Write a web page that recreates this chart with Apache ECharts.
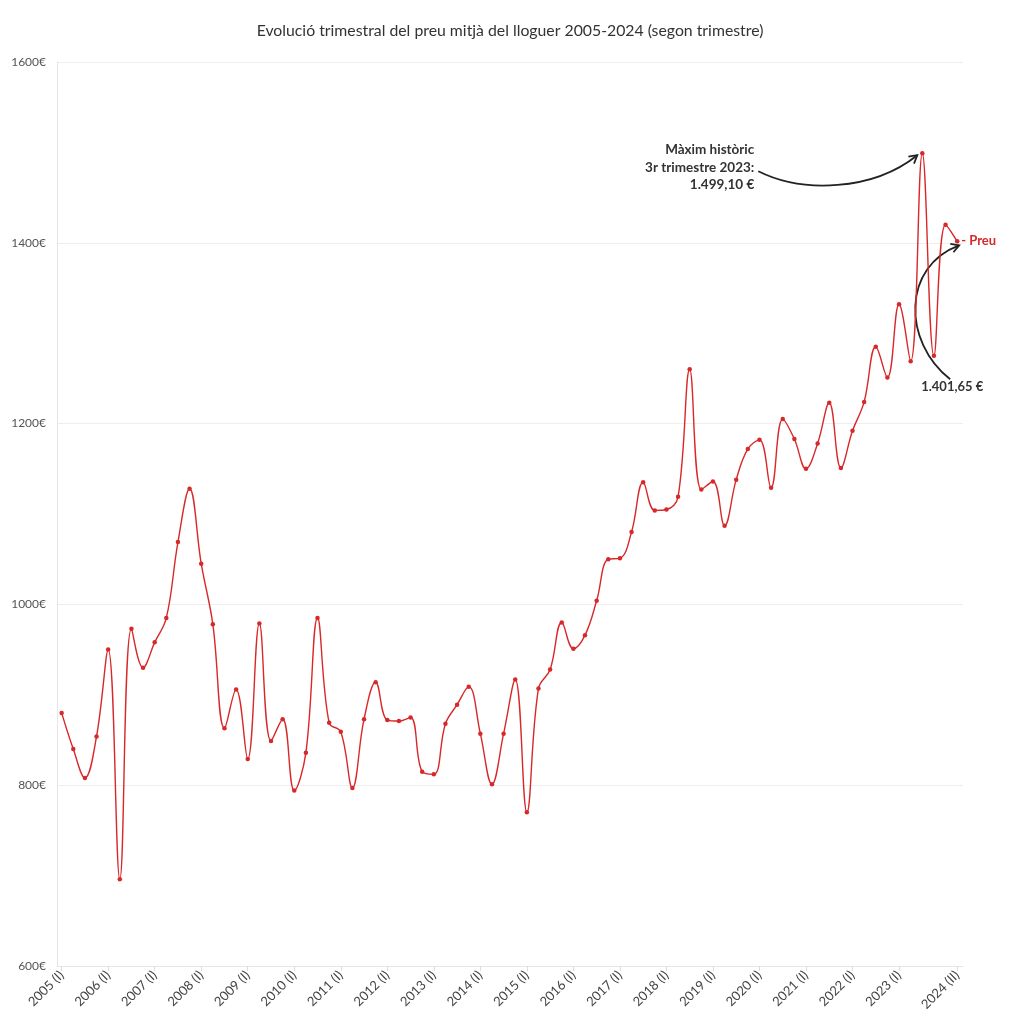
<!DOCTYPE html>
<html>
<head>
<meta charset="utf-8">
<script src="https://cdn.jsdelivr.net/npm/echarts@6/dist/echarts.min.js"></script>
<style>
html,body{margin:0;padding:0;background:#fff;}
#chart{width:1020px;height:1033px;}
</style>
</head>
<body>
<div id="chart"></div>
<script>
// Quarterly categories 2005 (I) .. 2024 (II)
const years = [2005,2006,2007,2008,2009,2010,2011,2012,2013,2014,2015,2016,2017,2018,2019,2020,2021,2022,2023,2024];
const romans = ["I","II","III","IV"];
const categories = [];
years.forEach(y => romans.forEach(r => { if (!(y === 2024 && (r === "III" || r === "IV"))) categories.push(y + " (" + r + ")"); }));

// Average rent (€) per quarter
const preu = [
  880, 840, 808, 854,
  950, 696, 973, 930,
  958, 985, 1069, 1128,
  1045, 978, 863, 906,
  829, 979, 849, 873,
  794, 836, 985, 869,
  859, 797, 873, 914,
  872, 871, 875, 815,
  812, 868, 889, 909,
  857, 801, 857, 917,
  770, 907, 928, 980,
  951, 966, 1004, 1050,
  1051, 1080, 1135, 1104,
  1105, 1119, 1260, 1127,
  1136, 1087, 1138, 1172,
  1182, 1129, 1205, 1183,
  1150, 1178, 1223, 1151,
  1192, 1224, 1285, 1251,
  1332, 1269, 1499.10, 1275,
  1420, 1401.65
];

// Tick labels shown on the x axis
const tickLabels = ["2005 (I)","2006 (I)","2007 (I)","2008 (I)","2009 (I)","2010 (I)","2011 (I)","2012 (I)","2013 (I)","2014 (I)","2015 (I)","2016 (I)","2017 (I)","2018 (I)","2019 (I)","2020 (I)","2021 (I)","2022 (I)","2023 (I)","2024 (II)"];
const yTicks = [600, 800, 1000, 1200, 1400, 1600];

const tickIdx = tickLabels.map(l => categories.indexOf(l));
const seriesData = preu.map((v, i) => [i, v]);
const RED = '#d7282a';
const FONT = 'Lato';

const chart = echarts.init(document.getElementById('chart'));
chart.setOption({
  animation: false,
  backgroundColor: '#fff',
  textStyle: { fontFamily: FONT },
  title: {
    text: 'Evolució trimestral del preu mitjà del lloguer 2005-2024 (segon trimestre)',
    left: 'center', top: 18,
    textStyle: { fontFamily: FONT, fontSize: 15.8, fontWeight: 'normal', color: '#333' }
  },
  grid: { left: 57, right: 57, top: 62, bottom: 67 },
  xAxis: {
    type: 'value',
    min: -0.4, max: 77.5,
    splitLine: { show: false },
    axisLine: { show: true, onZero: false, lineStyle: { color: '#e6e6e6' } },
    axisTick: { show: true, customValues: tickIdx, length: 5, lineStyle: { color: '#ddd' } },
    axisLabel: {
      customValues: tickIdx, rotate: 45, margin: 7,
      color: '#444', fontSize: 13, fontFamily: FONT,
      formatter: v => categories[Math.round(v)]
    }
  },
  yAxis: {
    type: 'value',
    min: yTicks[0], max: yTicks[yTicks.length - 1], interval: 200,
    axisLine: { show: true, onZero: false, lineStyle: { color: '#e6e6e6' } },
    axisTick: { show: false },
    splitLine: { lineStyle: { color: '#eeeeee' } },
    axisLabel: { color: '#555', fontSize: 12, margin: 11, fontFamily: FONT, formatter: v => v + '€' }
  },
  series: [{
    type: 'line',
    name: 'Preu',
    data: seriesData,
    smooth: 0.4,
    symbol: 'circle',
    symbolSize: 4.5,
    itemStyle: { color: RED },
    lineStyle: { color: RED, width: 1.4 },
    endLabel: {
      show: true, formatter: '- Preu', distance: 4,
      color: RED, fontWeight: 'bold', fontSize: 13, fontFamily: FONT
    }
  }]
});

function arrow(x1, y1, c1x, c1y, c2x, c2y, x2, y2) {
  const ang = Math.atan2(y2 - c2y, x2 - c2x);
  const L = 9, a = Math.PI / 6;
  return [
    { type: 'bezierCurve', shape: { x1, y1, cpx1: c1x, cpy1: c1y, cpx2: c2x, cpy2: c2y, x2, y2 },
      style: { stroke: '#222', lineWidth: 1.8, fill: null } },
    { type: 'polyline', shape: { points: [
        [x2 - L * Math.cos(ang - a), y2 - L * Math.sin(ang - a)], [x2, y2],
        [x2 - L * Math.cos(ang + a), y2 - L * Math.sin(ang + a)] ] },
      style: { stroke: '#222', lineWidth: 1.8, fill: null } }
  ];
}

const pMax = chart.convertToPixel({ seriesIndex: 0 }, [74, preu[74]]);
const pLast = chart.convertToPixel({ seriesIndex: 0 }, [77, preu[77]]);
const g = [];
g.push({
  type: 'text', x: pMax[0] - 168, y: pMax[1] - 12,
  style: { text: 'Màxim històric\n3r trimestre 2023:\n1.499,10 €', textAlign: 'right', fill: '#333',
    font: 'bold 13.5px ' + FONT, lineHeight: 17.5 }
});
arrow(pMax[0] - 164, pMax[1] + 18, pMax[0] - 120, pMax[1] + 40, pMax[0] - 50, pMax[1] + 38, pMax[0] - 5, pMax[1] + 2).forEach(e => g.push(e));
g.push({
  type: 'text', x: pLast[0] - 36, y: pLast[1] + 139,
  style: { text: '1.401,65 €', fill: '#333', font: 'bold 13px ' + FONT }
});
arrow(pLast[0] - 7, pLast[1] + 138, pLast[0] - 55, pLast[1] + 100, pLast[0] - 55, pLast[1] + 25, pLast[0] + 2, pLast[1] + 4).forEach(e => g.push(e));
chart.setOption({ graphic: g });
</script>
</body>
</html>
